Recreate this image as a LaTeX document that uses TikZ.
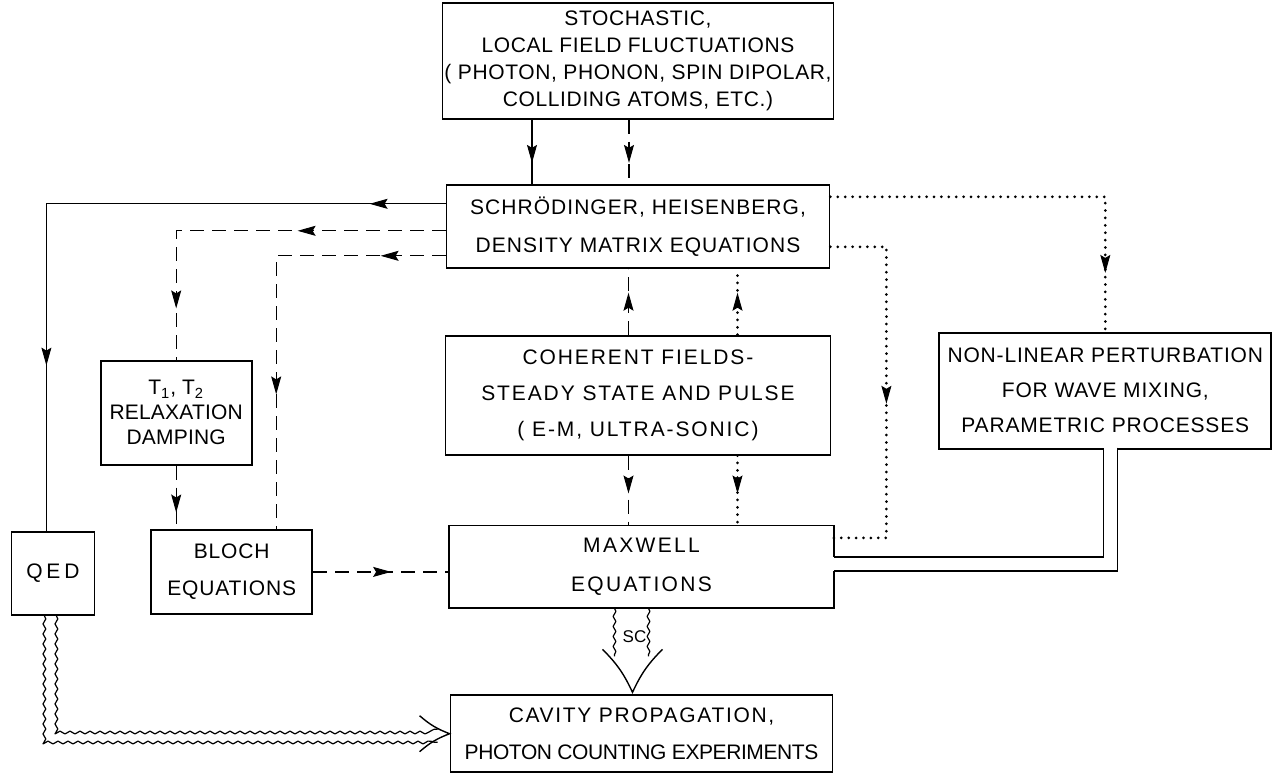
\documentclass[tikz,border=0pt]{standalone}
\usepackage{fontspec}
\setmainfont{Liberation Sans}
\usepackage{tikz}
\usetikzlibrary{positioning}
\usetikzlibrary{arrows.meta}
\usetikzlibrary{decorations.markings}
\usetikzlibrary{decorations.pathmorphing}

\newcommand{\lbl}[2]{\fontsize{10.5}{#2}\selectfont\addfontfeature{LetterSpace=#1}}

\begin{document}
\begin{tikzpicture}[x=0.5pt, y=-0.5pt,
    box/.style={draw, line width=0.9pt, align=center, inner sep=1pt},
    solidline/.style={line width=0.6pt},
    dashline/.style={line width=0.6pt, dash pattern=on 7pt off 4pt},
    dotline/.style={line width=1.5pt, line cap=round, dash pattern=on 0pt off 3.7pt},
    wavy/.style={line width=0.6pt, line join=round, decorate, decoration={snake, amplitude=0.7pt, segment length=5pt}},
    barb/.style={line width=0.7pt},
    midtip/.style={postaction={decorate, decoration={markings,
        mark=at position #1 with {\arrow{Stealth[length=9pt, width=5pt, inset=1.5pt, line width=0.5pt]}}}}},
    midtips/.style 2 args={postaction={decorate, decoration={markings,
        mark=at position #1 with {\arrow{Stealth[length=9pt, width=5pt, inset=1.5pt, line width=0.5pt]}},
        mark=at position #2 with {\arrow{Stealth[length=9pt, width=5pt, inset=1.5pt, line width=0.5pt]}}}}}]

    \useasboundingbox (0,0) rectangle (1282,773);

    \node(stoch)[box, minimum width=191pt, minimum height=58pt, font=\lbl{3}{13.5}] at (638,61)
        {STOCHASTIC,\\ LOCAL FIELD FLUCTUATIONS\\ ( PHOTON, PHONON, SPIN DIPOLAR,\\ COLLIDING ATOMS, ETC.)};
    \node(schro)[box, minimum width=191.5pt, minimum height=41.5pt, font=\lbl{5}{19}, below=32pt of stoch]
        {SCHRÖDINGER, HEISENBERG,\\ DENSITY MATRIX EQUATIONS};
    \node(coher)[box, minimum width=192.5pt, minimum height=59.5pt, font=\lbl{9}{18}, below=33pt of schro]
        {COHERENT FIELDS-\\ STEADY STATE AND PULSE\\ ( E-M, ULTRA-SONIC)};
    \node(maxwell)[minimum width=192pt, minimum height=41pt, align=center, font=\lbl{11}{19.5}, below=35pt of coher, xshift=1.75pt]
        {MAXWELL\\ EQUATIONS};
    \node(cavity)[box, minimum width=191pt, minimum height=38.5pt, font=\lbl{8}{18.5}, below=43pt of maxwell]
        {CAVITY PROPAGATION,\\ \addfontfeature{LetterSpace=-2}PHOTON COUNTING EXPERIMENTS};

    \node(nonlin)[box, minimum width=166pt, minimum height=58pt, font=\lbl{4}{17.5}, right=53.5pt of coher, yshift=2.25pt]
        {NON-LINEAR PERTURBATION\\ FOR WAVE MIXING,\\ PARAMETRIC PROCESSES};
    \node(t1)[box, minimum width=75.5pt, minimum height=52pt, font=\lbl{1}{12.5}, left=96pt of coher, yshift=-8.75pt]
        {T\textsubscript{1}, T\textsubscript{2}\\ RELAXATION\\ DAMPING};
    \node(bloch)[box, minimum width=80.5pt, minimum height=42pt, font=\lbl{4}{18.5}, left=68pt of maxwell, yshift=-2.5pt]
        {BLOCH\\ EQUATIONS};
    \node(qed)[box, minimum width=41.5pt, minimum height=41.5pt, font=\lbl{18}{13}, left=27.5pt of bloch, yshift=-0.75pt]
        {QED};

    \draw[line width=0.9pt] ([yshift=5pt]maxwell.east) -- (maxwell.north east) -- (maxwell.north west)
        -- (maxwell.south west) -- (maxwell.south east) -- ([yshift=-2pt]maxwell.east);

    \draw[solidline, midtip=21.5pt] ([xshift=-53pt]stoch.south) -- ([xshift=-53pt]stoch.south |- schro.north);
    \draw[dashline, midtip=21.5pt] ([xshift=-4.5pt]stoch.south) -- ([xshift=-4.5pt]stoch.south |- schro.north);

    \draw[solidline, midtips={38pt}{280.5pt}] ([yshift=11.25pt]schro.west) -| ([xshift=-3.25pt]qed.north);
    \draw[dashline, midtips={74pt}{173.5pt}] ([yshift=-2.25pt]schro.west) -| (t1.north);
    \draw[dashline, midtips={32.5pt}{154pt}] ([yshift=-14.75pt]schro.west) -| ([xshift=22.25pt]bloch.north);
    \draw[dashline, midtip=23.5pt] (t1.south) -- (t1.south |- bloch.north);
    \draw[dashline, midtip=39pt] (bloch.east) -- (bloch.east -| maxwell.west);

    \draw[dashline, midtip=21pt] ([xshift=-4.75pt]coher.north) -- ([xshift=-4.75pt]coher.north |- schro.south);
    \draw[dotline, midtip=21pt] ([xshift=49.75pt]coher.north) -- ([xshift=49.75pt]coher.north |- schro.south);
    \draw[dashline, midtip=19pt] ([xshift=-4.75pt]coher.south) -- ([xshift=-4.75pt]coher.south |- maxwell.north);
    \draw[dotline, midtip=19pt] ([xshift=49.75pt]coher.south) -- ([xshift=49.75pt]coher.south |- maxwell.north);

    \draw[dotline, midtip=175.5pt] ([yshift=14.75pt]schro.east) -| (nonlin.north);
    \draw[dotline, midtip=106.5pt] ([yshift=-10.25pt]schro.east) -- ++(28pt,0) |- ([yshift=14.5pt]maxwell.east);

    \draw[line width=0.6pt, double, double distance=6.4pt] ([xshift=2.5pt,yshift=1pt]nonlin.south) |- ([yshift=1.5pt]maxwell.east);

    \draw[wavy] ([xshift=-4.25pt]qed.south) |- ([xshift=-6pt,yshift=-4.25pt]cavity.west);
    \draw[wavy] ([xshift=1.75pt]qed.south) |- ([xshift=-6pt,yshift=2.25pt]cavity.west);
    \draw[barb] ([xshift=-15pt,yshift=9pt]cavity.west) to[bend right=10] (cavity.west)
        to[bend right=10] ([xshift=-15pt,yshift=-9pt]cavity.west);

    \draw[wavy] ([xshift=-13.5pt]maxwell.south) -- ([xshift=-13.5pt,yshift=19pt]cavity.north);
    \draw[wavy] ([xshift=3.5pt]maxwell.south) -- ([xshift=3.5pt,yshift=19pt]cavity.north);
    \node(sc)[below=11pt of maxwell.south, xshift=-3.5pt, inner sep=0pt, font=\fontsize{8.5}{10}\selectfont]{SC};
    \draw[barb] ([xshift=-19.5pt,yshift=22.5pt]cavity.north) to[bend left=10] ([xshift=-4.5pt,yshift=1pt]cavity.north)
        to[bend left=10] ([xshift=10.5pt,yshift=22.5pt]cavity.north);

\end{tikzpicture}
\end{document}
